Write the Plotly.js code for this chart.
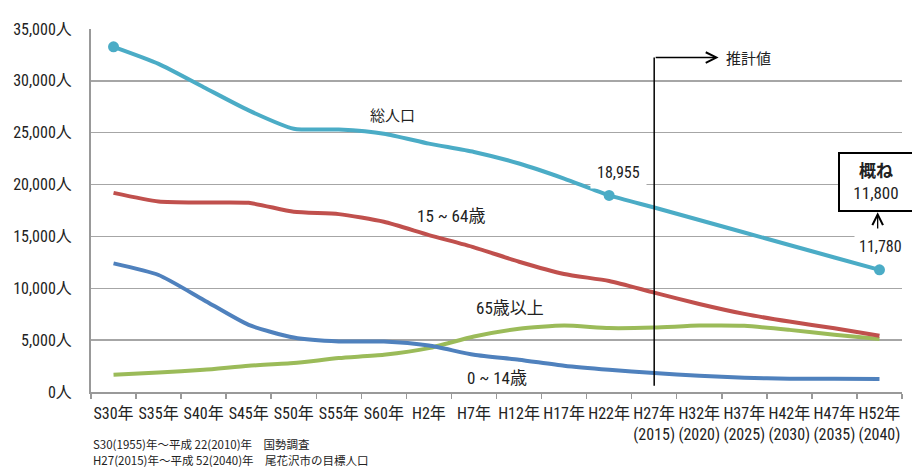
<!DOCTYPE html>
<html>
<head>
<meta charset="utf-8">
<script src="https://cdn.plot.ly/plotly-3.0.1.min.js"></script>
<style>html,body{margin:0;padding:0;background:#fff;}#chart{width:912px;height:467px;}</style>
</head>
<body>
<div id="chart"></div>
<script>
var categories = ["S30年","S35年","S40年","S45年","S50年","S55年","S60年","H2年","H7年","H12年","H17年","H22年","H27年<br>(2015)","H32年<br>(2020)","H37年<br>(2025)","H42年<br>(2030)","H47年<br>(2035)","H52年<br>(2040)"];
var total    = [33277, 31640, 29390, 27150, 25390, 25300, 24910, 23950, 23140, 22030, 20580, 18955, 17790, 16580, 15380, 14170, 12970, 11780];
var age15_64 = [19200, 18370, 18270, 18240, 17370, 17150, 16410, 15130, 13950, 12560, 11380, 10700, 9580, 8490, 7530, 6790, 6150, 5415];
var age0_14  = [12400, 11280, 8880, 6470, 5250, 4870, 4870, 4480, 3590, 3110, 2530, 2140, 1830, 1570, 1375, 1280, 1280, 1250];
var age65    = [1660, 1890, 2140, 2530, 2790, 3270, 3590, 4230, 5350, 6090, 6410, 6160, 6210, 6400, 6380, 5990, 5510, 5100];
var markedIdx = [0, 11, 17];
var yTicks = [0, 5000, 10000, 15000, 20000, 25000, 30000, 35000];

var FONT = "'Liberation Sans Narrow', 'Roboto Condensed', 'Noto Sans CJK JP', sans-serif";
var CJK = "'Noto Sans CJK JP', sans-serif";

function line(y, color, name) {
  return {x: categories, y: y, type: 'scatter', mode: 'lines', name: name,
    line: {color: color, width: 4, shape: 'spline', smoothing: 0.6}, hoverinfo: 'skip'};
}
var traces = [
  line(age65, '#9BBB59', '65歳以上'),
  line(age0_14, '#4F81BD', '0~14歳'),
  line(age15_64, '#C0504D', '15~64歳'),
  line(total, '#4BACC6', '総人口'),
  {x: markedIdx.map(function(i){return categories[i];}), y: markedIdx.map(function(i){return total[i];}),
   type: 'scatter', mode: 'markers', marker: {color: '#4BACC6', size: 11}, hoverinfo: 'skip'}
];

function fmt(v){ return v.toLocaleString('en-US'); }

var annotations = [
  {x: 0, y: 35520, xref: 'x', yref: 'y', text: fmt(total[0]), showarrow: false, bgcolor: '#fff', borderpad: 5, font: {family: FONT, size: 16, color: '#222'}},
  {x: 11.2, y: 21190, xref: 'x', yref: 'y', text: fmt(total[11]), showarrow: false, bgcolor: '#fff', borderpad: 6, font: {family: FONT, size: 16, color: '#222'}},
  {x: 17.03, y: 14000, xref: 'x', yref: 'y', text: fmt(total[17]), showarrow: false, bgcolor: '#fff', borderpad: 4, font: {family: FONT, size: 16, color: '#222'}},
  {x: 16.93, y: 20275, xref: 'x', yref: 'y', text: '<b>概ね</b><br>11,800', showarrow: false, bgcolor: '#fff', bordercolor: '#000', borderwidth: 2, borderpad: 3, width: 66, height: 50, font: {family: FONT, size: 17, color: '#222'}},
  {x: 16.96, y: 17340, ax: 16.96, ay: 15610, xref: 'x', yref: 'y', axref: 'x', ayref: 'y', text: '', showarrow: true, arrowhead: 5, arrowsize: 1.6, arrowwidth: 1.3, arrowcolor: '#000', standoff: 0},
  {x: 13.43, y: 32250, ax: 12, ay: 32250, xref: 'x', yref: 'y', axref: 'x', ayref: 'y', text: '', showarrow: true, arrowhead: 5, arrowsize: 1.6, arrowwidth: 1.3, arrowcolor: '#000', standoff: 0},
  {x: 14.1, y: 32250, xref: 'x', yref: 'y', text: '推計値', showarrow: false, font: {family: CJK, size: 15, color: '#222'}},
  {x: 6.19, y: 26770, xref: 'x', yref: 'y', text: '総人口', showarrow: false, font: {family: CJK, size: 15, color: '#222'}},
  {x: 7.48, y: 16960, xref: 'x', yref: 'y', text: '15 ~ 64歳', showarrow: false, font: {family: FONT, size: 17, color: '#222'}},
  {x: 8.81, y: 8110, xref: 'x', yref: 'y', text: '65歳以上', showarrow: false, font: {family: FONT, size: 17, color: '#222'}},
  {x: 8.52, y: 1375, xref: 'x', yref: 'y', text: '0 ~ 14歳', showarrow: false, font: {family: FONT, size: 17, color: '#222'}},
  {x: 0, y: -0.143, xref: 'paper', yref: 'paper', xanchor: 'left', yanchor: 'middle', text: 'S30(1955)年～平成 22(2010)年　国勢調査', showarrow: false, font: {family: CJK, size: 11.5, color: '#222'}},
  {x: 0, y: -0.187, xref: 'paper', yref: 'paper', xanchor: 'left', yanchor: 'middle', text: 'H27(2015)年～平成 52(2040)年　尾花沢市の目標人口', showarrow: false, font: {family: CJK, size: 11.5, color: '#222'}}
];

var shapes = [
  {type: 'line', xref: 'x', yref: 'y', x0: 12, x1: 12, y0: 32250, y1: 600, line: {color: '#000', width: 1.5}}
];

var layout = {
  width: 912, height: 467,
  margin: {l: 91, r: 10, t: 29, b: 75},
  paper_bgcolor: '#fff', plot_bgcolor: '#fff',
  showlegend: false,
  font: {family: FONT, size: 16, color: '#222'},
  xaxis: {type: 'category', range: [-0.5, 17.5], showgrid: false, tickson: 'boundaries',
    tickangle: 0, automargin: false, ticklabelstandoff: 6,
    ticks: 'outside', ticklen: 5, tickcolor: '#999', tickwidth: 1.5,
    showline: true, linecolor: '#999', linewidth: 2,
    tickfont: {family: FONT, size: 16, color: '#222'}, fixedrange: true},
  yaxis: {range: [0, 35000], tickvals: yTicks, ticktext: yTicks.map(function(v){return fmt(v) + '人';}),
    showgrid: true, gridcolor: '#a6a6a6', gridwidth: 1.3, zeroline: false, automargin: false,
    showline: true, linecolor: '#999', linewidth: 2, ticks: '', ticklabelstandoff: 14,
    tickfont: {family: FONT, size: 16, color: '#222'}, fixedrange: true},
  annotations: annotations,
  shapes: shapes
};

Plotly.newPlot('chart', traces, layout, {displayModeBar: false, staticPlot: true});
</script>
</body>
</html>
